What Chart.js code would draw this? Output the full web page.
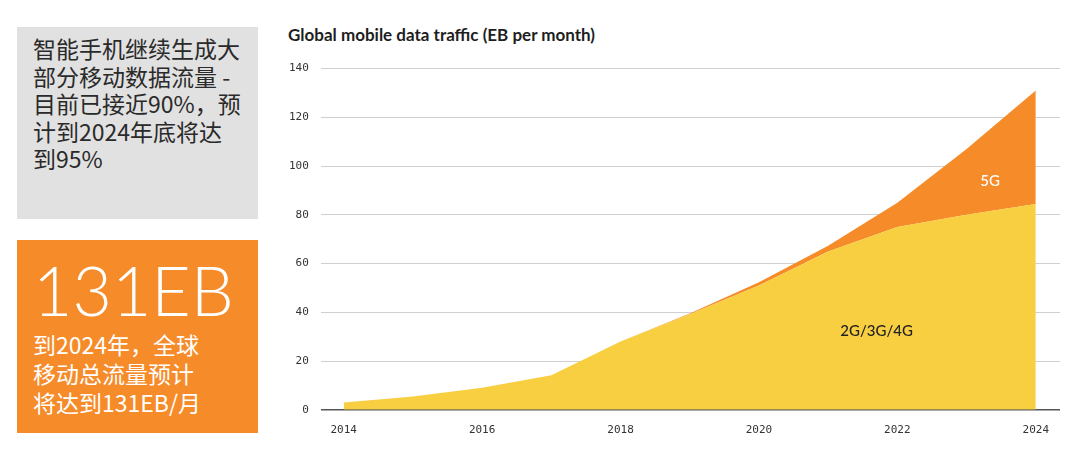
<!DOCTYPE html>
<html>
<head>
<meta charset="utf-8">
<script src="https://cdn.jsdelivr.net/npm/chart.js@4"></script>
<style>
  html, body { margin:0; padding:0; background:#fff; width:1080px; height:460px; overflow:hidden; }
  .grey { position:absolute; left:17px; top:27px; width:241px; height:192px; background:#e1e1e1; }
  .grey p { margin:0; position:absolute; left:16px; top:8px; width:230px; font-family:"Noto Sans CJK SC", sans-serif; font-size:23px; line-height:27.5px; color:#2a2a2a; white-space:nowrap; }
  .orange { position:absolute; left:17px; top:240px; width:241px; height:193px; background:#f68b29; color:#fff; }
  .big { position:absolute; left:16px; top:14px; font-family:Lato, "Open Sans", sans-serif; font-weight:300; font-size:68px; line-height:72px; }
  .orange p { margin:0; position:absolute; left:16px; top:90px; font-family:"Noto Sans CJK SC", sans-serif; font-size:23px; line-height:29px; }
  .title { position:absolute; left:288px; top:24px; font-family:Lato, "Open Sans", sans-serif; font-weight:700; font-size:17px; color:#1e1e1e; }
  .wrap { position:absolute; left:270px; top:50px; width:810px; height:393px; }
</style>
</head>
<body>
<div class="grey"><p>智能手机继续生成大<br>部分移动数据流量 -<br>目前已接近90%，预<br>计到2024年底将达<br>到95%</p></div>
<div class="orange"><div class="big">131EB</div><p>到2024年，全球<br>移动总流量预计<br>将达到131EB/月</p></div>
<div class="title">Global mobile data traffic (EB per month)</div>
<div class="wrap"><canvas id="c"></canvas></div>
<script>
const years = [2014, 2015, 2016, 2017, 2018, 2019, 2020, 2021, 2022, 2023, 2024];
const legacy = [3, 5.5, 9, 14.2, 28, 39.2, 51, 65, 75, 80, 84.4];
const fiveG = [0, 0, 0, 0, 0, 0.3, 1.3, 2.3, 10, 27, 46.6];
const xTicks = [2014, 2016, 2018, 2020, 2022, 2024];
const yTicks = [0, 20, 40, 60, 80, 100, 120, 140];
const seriesNames = ['2G/3G/4G', '5G'];

const areaLabels = {
  id: 'areaLabels',
  afterDatasetsDraw(chart) {
    const {ctx, scales:{x, y}} = chart;
    ctx.save();
    ctx.font = '500 15px Lato, "Open Sans", sans-serif';
    ctx.textAlign = 'center';
    ctx.textBaseline = 'middle';
    ctx.fillStyle = '#fff';
    ctx.fillText(seriesNames[1], x.getPixelForValue(2023.34), y.getPixelForValue(94));
    ctx.fillStyle = '#222';
    ctx.fillText(seriesNames[0], x.getPixelForValue(2021.7), y.getPixelForValue(32.4));
    ctx.restore();
  }
};

new Chart(document.getElementById('c'), {
  type: 'line',
  data: {
    datasets: [
      { label: seriesNames[0], data: years.map((v,i)=>({x:v, y:legacy[i]})), backgroundColor:'#f8cf41', borderWidth:0, pointRadius:0, fill:'origin', tension:0 },
      { label: seriesNames[1], data: years.map((v,i)=>({x:v, y:fiveG[i]})), backgroundColor:'#f68b29', borderWidth:0, pointRadius:0, fill:'-1', tension:0 }
    ]
  },
  options: {
    responsive:true, maintainAspectRatio:false, animation:false,
    layout:{ padding:{ left:7, right:20, top:6, bottom:0 } },
    plugins:{ legend:{display:false}, tooltip:{enabled:false}, title:{display:false} },
    scales:{
      x:{ type:'linear', min:2013.67, max:2024.35,
          afterBuildTicks(s){ s.ticks = xTicks.map(v=>({value:v})); },
          grid:{ display:false }, border:{ display:false },
          ticks:{ font:{ family:'"DejaVu Sans Mono", monospace', size:11 }, color:'#333', padding:6, callback:v=>String(v) } },
      y:{ stacked:true, min:0, max:140,
          afterBuildTicks(s){ s.ticks = yTicks.map(v=>({value:v})); },
          grid:{ color:c=> c.tick && c.tick.value===0 ? '#555' : '#cfcfcf', lineWidth:c=> c.tick && c.tick.value===0 ? 1.5 : 1, drawTicks:false },
          border:{ display:false },
          ticks:{ font:{ family:'"DejaVu Sans Mono", monospace', size:11 }, color:'#333', padding:12 } }
    }
  },
  plugins:[areaLabels]
});
</script>
</body>
</html>
